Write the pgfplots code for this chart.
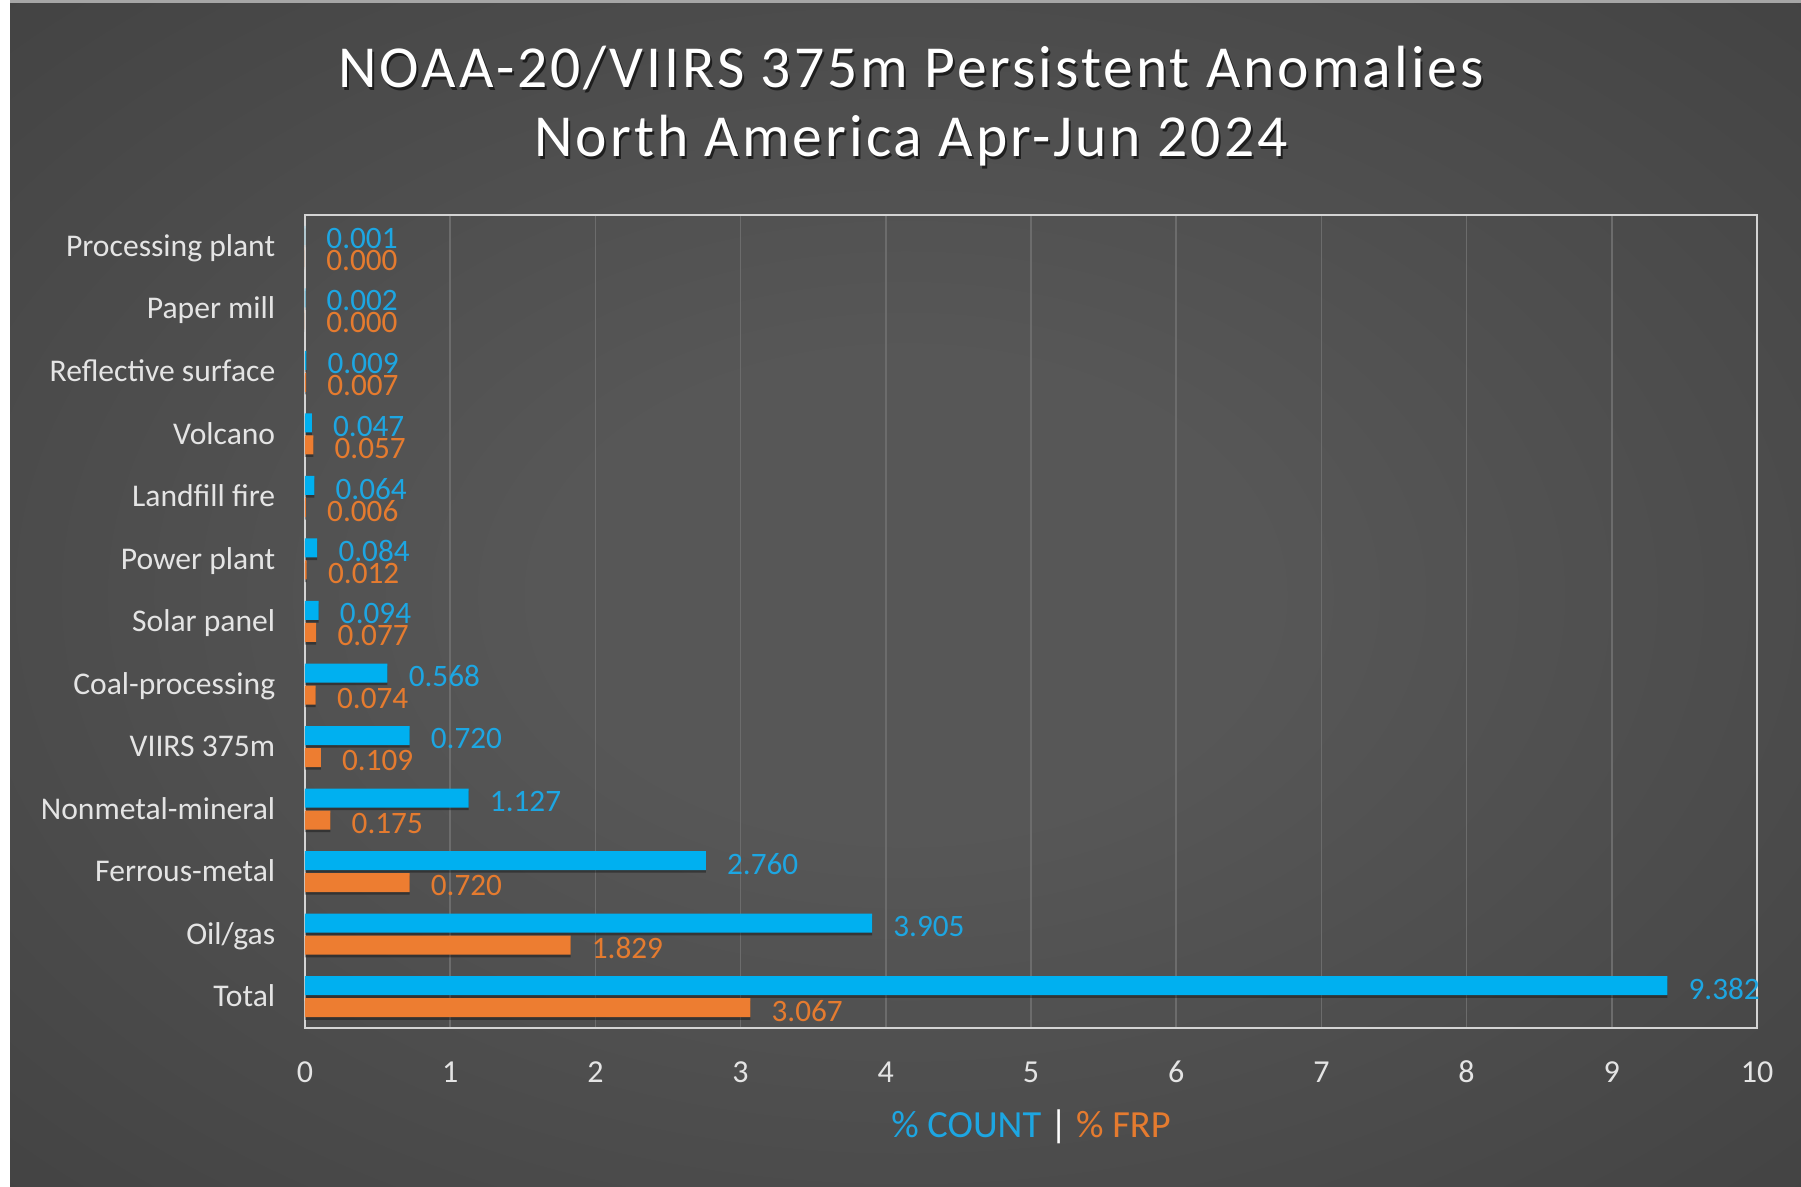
\documentclass[border=0pt]{standalone}
\usepackage{pgfplots}
\pgfplotsset{compat=1.18}
\usepackage{pgfplotstable}
\usepackage{fontspec}
\setmainfont{Carlito}
\newfontfamily\titlefont[LetterSpace=5.0]{Carlito}

\definecolor{bgin}{HTML}{575757}
\definecolor{bgout}{HTML}{272727}
\definecolor{cblue}{HTML}{00B0F0}
\definecolor{corange}{HTML}{ED7D31}
\definecolor{lblue}{HTML}{1DA6E2}
\definecolor{lorange}{HTML}{E57B2F}
\definecolor{txt}{HTML}{E4E4E4}
\definecolor{gridc}{HTML}{6C6C6C}
\definecolor{axisc}{HTML}{D4D4D4}
\pgfdeclareradialshading{bgshade}{\pgfpoint{0bp}{0bp}}{color(0bp)=(bgin); color(10bp)=(bgin); color(72bp)=(bgout)}

\pgfplotstableread{
y count frp
0 9.382 3.067
1 3.905 1.829
2 2.760 0.720
3 1.127 0.175
4 0.720 0.109
5 0.568 0.074
6 0.094 0.077
7 0.084 0.012
8 0.064 0.006
9 0.047 0.057
10 0.009 0.007
11 0.002 0.000
12 0.001 0.000
}\data

\begin{document}
\begin{tikzpicture}
\fill[white] (0,0) rectangle (450.25pt,296.75pt);
\shade[shading=bgshade] (2.5pt,0) rectangle (450.25pt,296pt);
\fill[gray!70] (2.5pt,296pt) rectangle (450.25pt,296.75pt);
\begin{axis}[
  at={(76.25pt,39.75pt)}, anchor=south west,
  scale only axis, width=363pt, height=203.25pt,
  xmin=0, xmax=10, ymin=-0.5, ymax=12.5,
  xtick={0,...,10}, ytick={0,...,12},
  yticklabels={Total, Oil/gas, Ferrous-metal, Nonmetal-mineral, VIIRS 375m, Coal-processing, Solar panel, Power plant, Landfill fire, Volcano, Reflective surface, Paper mill, Processing plant},
  xmajorgrids, major grid style={draw=gridc, line width=0.4pt},
  axis line style={draw=axisc, line width=0.7pt},
  major tick length=0pt, tick style={draw=none},
  /pgf/number format/assume math mode=true,
  xticklabel style={anchor=base, yshift=-13.75pt, font=\fontsize{8}{9}\selectfont, text=txt},
  yticklabel style={anchor=base east, inner sep=0pt, xshift=-7.25pt, yshift=-2.55pt, font=\fontsize{7.9}{9}\selectfont, text=txt},
  xlabel={\textcolor{lblue}{\% COUNT} \textcolor{white}{|} \textcolor{lorange}{\% FRP}},
  xlabel style={at={(axis description cs:0.5,0)}, anchor=base, yshift=-27.5pt, font=\fontsize{9.6}{11}\selectfont},
  clip=false,
]
\addplot[xbar, bar width=4.75pt, bar shift=2.1pt, fill=black, fill opacity=0.35, draw=none, forget plot] table[x=count,y=y]{\data};
\addplot[xbar, bar width=4.75pt, bar shift=-3.4pt, fill=black, fill opacity=0.35, draw=none, forget plot] table[x=frp,y=y]{\data};
\addplot[xbar, bar width=4.75pt, bar shift=2.75pt, fill=cblue, draw=none, point meta=x,
  nodes near coords={\pgfmathprintnumber[fixed,fixed zerofill,precision=3]{\pgfplotspointmeta}},
  nodes near coords style={anchor=west, xshift=1.8pt, yshift=1.95pt, text=lblue, font=\fontsize{7.8}{9}\selectfont}]
  table[x=count,y=y]{\data};
\addplot[xbar, bar width=4.75pt, bar shift=-2.75pt, fill=corange, draw=none, point meta=x,
  nodes near coords={\pgfmathprintnumber[fixed,fixed zerofill,precision=3]{\pgfplotspointmeta}},
  nodes near coords style={anchor=west, xshift=1.8pt, yshift=-3.55pt, text=lorange, font=\fontsize{7.8}{9}\selectfont}]
  table[x=frp,y=y]{\data};
\end{axis}
\node[anchor=base, text=black, opacity=0.6] at (228.25pt,274.15pt) {\titlefont\fontsize{14.9}{16}\selectfont NOAA-20/VIIRS 375m Persistent Anomalies};
\node[anchor=base, text=white] at (227.75pt,274.75pt) {\titlefont\fontsize{14.9}{16}\selectfont NOAA-20/VIIRS 375m Persistent Anomalies};
\node[anchor=base, text=black, opacity=0.6] at (228.25pt,256.9pt) {\titlefont\fontsize{14.9}{16}\selectfont North America Apr-Jun 2024};
\node[anchor=base, text=white] at (227.75pt,257.5pt) {\titlefont\fontsize{14.9}{16}\selectfont North America Apr-Jun 2024};
\end{tikzpicture}
\end{document}
